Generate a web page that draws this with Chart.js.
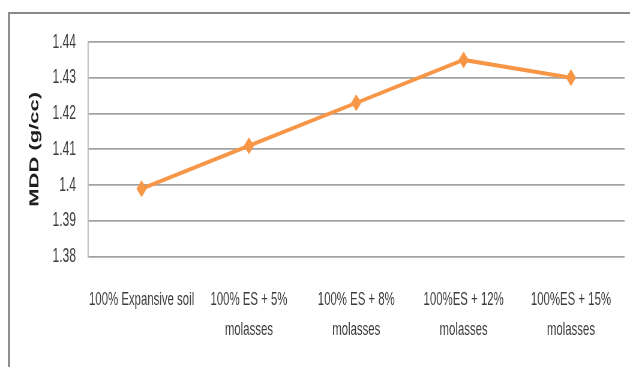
<!DOCTYPE html>
<html>
<head>
<meta charset="utf-8">
<script src="https://cdn.jsdelivr.net/npm/chart.js@4/dist/chart.umd.min.js"></script>
<style>
  html, body { margin: 0; padding: 0; background: #fff; overflow: hidden; }
  body { width: 630px; height: 367px; position: relative; }
  /* outer frame: top and left edges only */
  #frame {
    position: absolute; left: 8px; top: 12px; width: 640px; height: 380px;
    border-top: 2px solid #8a8a8a; border-left: 2px solid #8f8f8f;
    box-sizing: border-box;
  }
  /* chart is drawn wide and compressed horizontally */
  #wrap {
    position: absolute; left: 0; top: 0; width: 1050px; height: 367px;
    transform: scaleX(0.6); transform-origin: 0 0;
  }
  #chart { width: 1050px; height: 367px; }
</style>
</head>
<body>
<div id="frame"></div>
<div id="wrap"><canvas id="chart" width="1050" height="367"></canvas></div>
<script>
const categories = [
  '100% Expansive soil',
  ['100% ES + 5%', 'molasses'],
  ['100% ES + 8%', 'molasses'],
  ['100%ES + 12%', 'molasses'],
  ['100%ES + 15%', 'molasses']
];
const mddValues = [1.399, 1.411, 1.423, 1.435, 1.430];
const yTickLabels = ['1.38', '1.39', '1.4', '1.41', '1.42', '1.43', '1.44'];
const yMin = 1.38;
const yMax = 1.44;
const yStep = 0.01;
const yTitle = 'MDD (g/cc)';

const lineColor = '#F79646';

new Chart(document.getElementById('chart'), {
  type: 'line',
  data: {
    labels: categories,
    datasets: [{
      label: 'MDD',
      data: mddValues,
      borderColor: lineColor,
      backgroundColor: lineColor,
      borderWidth: 4,
      tension: 0,
      pointStyle: 'rectRot',
      pointRadius: 8,
      pointHoverRadius: 8,
      pointBackgroundColor: lineColor,
      pointBorderColor: lineColor,
      pointBorderWidth: 1
    }]
  },
  options: {
    responsive: false,
    animation: false,
    devicePixelRatio: 1,
    layout: { padding: { left: 0, right: 6, top: 42, bottom: 0 } },
    plugins: {
      legend: { display: false },
      tooltip: { enabled: false }
    },
    scales: {
      x: {
        offset: true,
        grid: { display: false, drawTicks: false },
        border: { display: false },
        ticks: {
          color: '#3c3c3c',
          padding: 28,
          maxRotation: 0,
          autoSkip: false,
          font: { family: "'Liberation Sans', Arial, sans-serif", size: 19, lineHeight: 1.58 }
        },
        afterFit(scale) { scale.height = 110.3; }
      },
      y: {
        min: yMin,
        max: yMax,
        grid: { color: '#a2a2a2', lineWidth: 1.8, drawTicks: false },
        border: { display: true, color: '#a0a0a0', width: 1.6 },
        ticks: {
          stepSize: yStep,
          color: '#3c3c3c',
          padding: 20,
          font: { family: "'Liberation Sans', Arial, sans-serif", size: 20 },
          callback: (value, index) => yTickLabels[index]
        },
        title: {
          display: true,
          text: yTitle,
          color: '#1e1e1e',
          padding: { top: 45, bottom: 0 },
          font: { family: "'Liberation Sans', Arial, sans-serif", size: 22, weight: 'bold' }
        },
        afterFit(scale) { scale.width = 146.5; }
      }
    }
  }
});
</script>
</body>
</html>
